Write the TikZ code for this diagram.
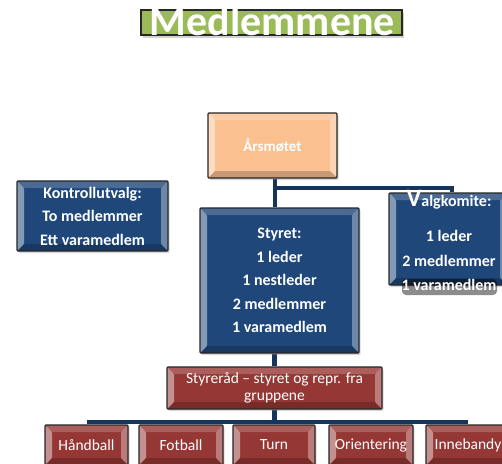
\documentclass[tikz,border=0pt]{standalone}
\usepackage{fontspec}
\setmainfont{Carlito}
\usetikzlibrary{positioning,shadows,backgrounds}

\definecolor{orgblue}{RGB}{31,71,122}
\definecolor{orgred}{RGB}{149,55,53}
\definecolor{orgpeach}{RGB}{250,192,144}
\definecolor{orggreen}{RGB}{155,187,89}
\definecolor{orgline}{RGB}{22,52,92}

\tikzset{
  bevel/.style={path picture={
    \fill[white,opacity=.45] (path picture bounding box.north west) -- ([shift={(7pt,-7pt)}]path picture bounding box.north west) -- ([shift={(7pt,7pt)}]path picture bounding box.south west) -- (path picture bounding box.south west) -- cycle;
    \fill[white,opacity=.35] (path picture bounding box.north east) -- ([shift={(-7pt,-7pt)}]path picture bounding box.north east) -- ([shift={(-7pt,7pt)}]path picture bounding box.south east) -- (path picture bounding box.south east) -- cycle;
    \fill[white,opacity=.2] (path picture bounding box.north west) -- ([shift={(7pt,-7pt)}]path picture bounding box.north west) -- ([shift={(-7pt,-7pt)}]path picture bounding box.north east) -- (path picture bounding box.north east) -- cycle;
    \fill[black,opacity=.2] (path picture bounding box.south west) -- ([shift={(7pt,7pt)}]path picture bounding box.south west) -- ([shift={(-7pt,7pt)}]path picture bounding box.south east) -- (path picture bounding box.south east) -- cycle;
  }},
  orgbox/.style={draw=black!85, line width=1.3pt, rounded corners=1pt, text=white, align=center, inner sep=2pt, bevel, drop shadow={opacity=.3,shadow xshift=1.5pt,shadow yshift=-2pt}},
  bluebox/.style={orgbox, fill=orgblue, font=\bfseries\fontsize{16}{23.5}\selectfont},
  redbox/.style={orgbox, fill=orgred, font=\fontsize{15.5}{17.5}\selectfont},
  groupbox/.style={redbox, minimum width=83pt, minimum height=40pt},
  link/.style={draw=orgline, line width=4.5pt},
}

\begin{document}
\begin{tikzpicture}[x=1pt,y=-1pt]
\clip (0,0) rectangle (502,463);
% title
\node[fill=orggreen, draw=black!85, line width=1.3pt, minimum width=261pt, minimum height=25pt, inner sep=0pt, drop shadow={opacity=.35,shadow xshift=1.5pt,shadow yshift=-2.5pt}] at (271.5,22.5) (titlebox) {};
\node[anchor=base, text=white, font=\bfseries\fontsize{42}{42}\selectfont, inner sep=0pt] at (272.5,35) (title) {Medlemmene};
% top level
\node[orgbox, fill=orgpeach, minimum width=129pt, minimum height=65pt, font=\bfseries\fontsize{15}{18}\selectfont] at (272.5,145.5) (aars) {Årsmøtet};
\node[bluebox, minimum width=151pt, minimum height=70pt] at (92.5,216) (kontroll) {Kontrollutvalg:\\To medlemmer\\Ett varamedlem};
\node[bluebox, minimum width=159pt, minimum height=145pt] at (279.5,280.5) (styret) {Styret:\\1 leder\\1 nestleder\\2 medlemmer\\1 varamedlem};
\node[bluebox, minimum width=118pt, minimum height=92pt] at (448,239) (valg) {};
% dark glow under the text that hangs out of the box
\fill[black,opacity=.45,rounded corners=4pt] (402,279) rectangle (497,295);
\node[anchor=north, text=white, align=center, font=\bfseries\fontsize{16}{24.5}\selectfont, inner sep=0pt] at (449,190) (valgtext) {{\fontsize{25}{25}\selectfont V}algkomite:\\[11pt]1 leder\\2 medlemmer\\1 varamedlem};
% groups
\node[redbox, minimum width=215pt, minimum height=42pt] at (274.5,388) (styrerad) {Styreråd -- styret og repr. fra\\gruppene};
\node[groupbox] at (86.5,445) (hand) {Håndball};
\node[groupbox, minimum width=84pt] at (181,445) (fot) {Fotball};
\node[groupbox, minimum width=82pt] at (274,445) (turn) {Turn};
\node[groupbox, minimum width=84pt] at (371,445) (orient) {Orientering};
\node[groupbox, minimum width=84pt] at (468,445) (inne) {Innebandy};
\coordinate (vsplit) at (275,188);
\coordinate (bus) at (274.5,422);
\begin{scope}[on background layer]
\fill[white] (0,0) rectangle (502,463);
\draw[link] (aars.south -| vsplit) -- (vsplit |- styret.north);
\draw[link] (vsplit) -| ([xshift=4pt]valg.north);
\draw[link] (styrerad.north) -- (styrerad.north |- styret.south);
\draw[link] (styrerad.south) -- (bus);
\draw[link] (hand.north |- bus) -- (inne.north |- bus);
\end{scope}
\end{tikzpicture}
\end{document}
